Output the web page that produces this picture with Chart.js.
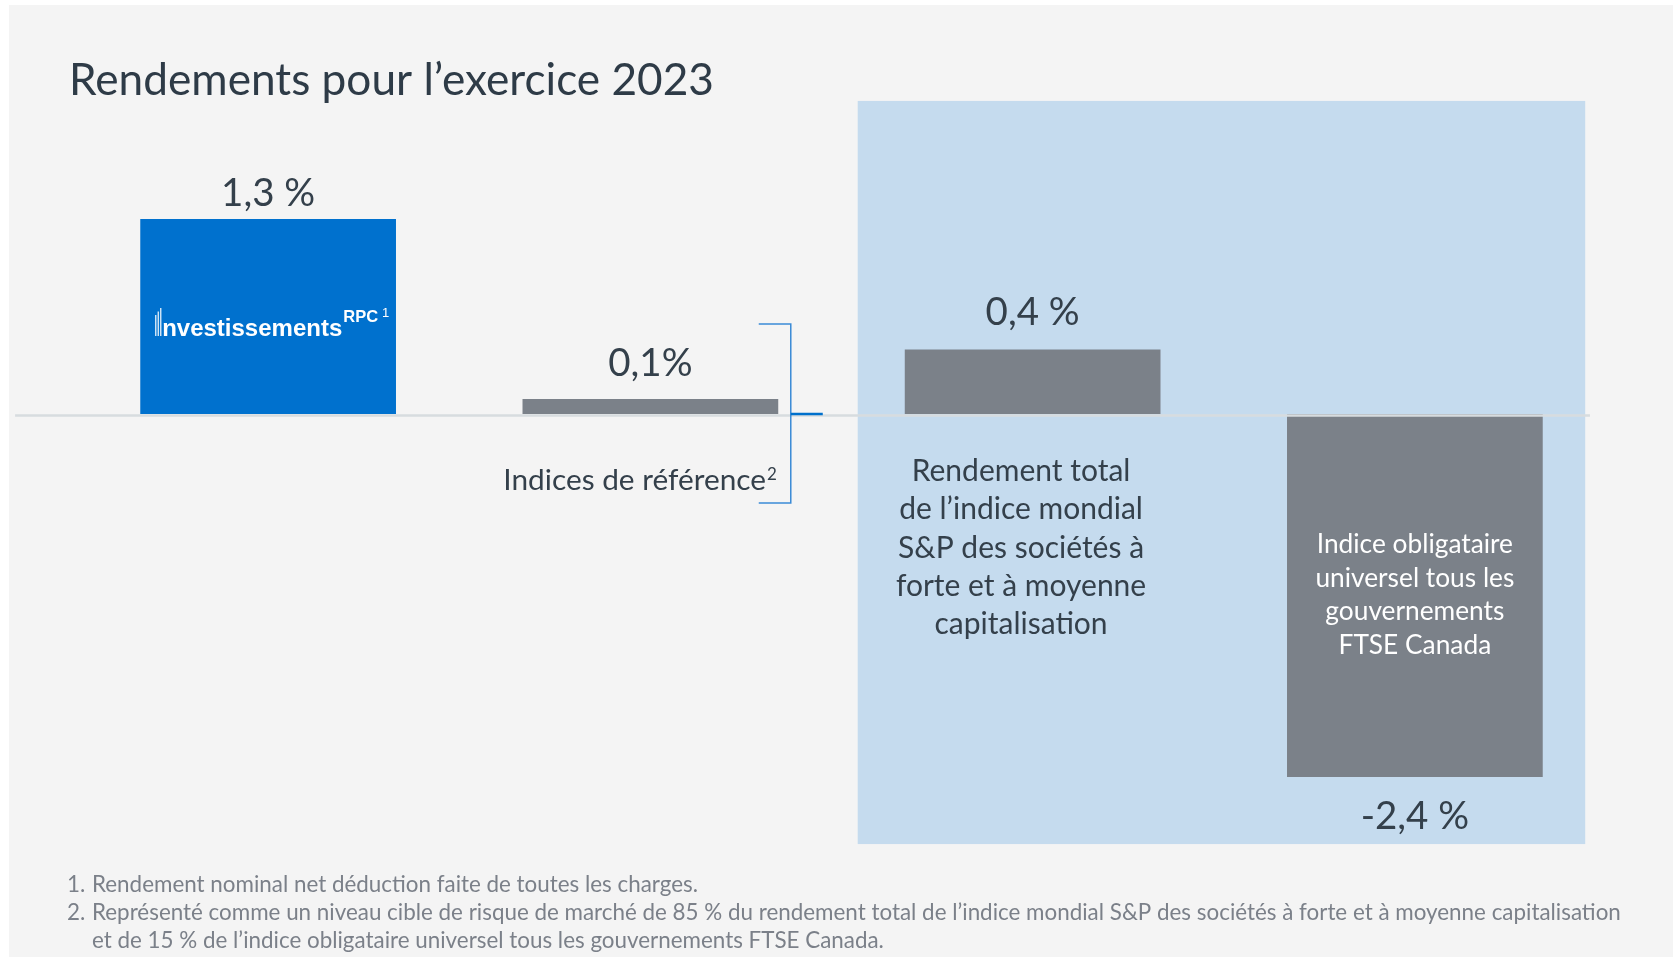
<!DOCTYPE html>
<html><head><meta charset="utf-8">
<script src="https://cdn.jsdelivr.net/npm/chart.js@4/dist/chart.umd.min.js"></script>
<style>html,body{margin:0;padding:0;background:#fff;overflow:hidden}canvas{display:block}</style>
</head><body>
<canvas id="c" width="1673" height="957"></canvas>
<script>
// ---------- data ----------
const categories = [
  "Investissements RPC",
  "Indices de référence",
  "Rendement total de l’indice mondial S&P des sociétés à forte et à moyenne capitalisation",
  "Indice obligataire universel tous les gouvernements FTSE Canada"
];
// bar heights (labels show the rounded figures)
const returns2023 = [1.3, 0.1, 0.43, -2.42];
const valueLabels = ["1,3 %", "0,1%", "0,4 %", "-2,4 %"];
const titleText = "Rendements pour l’exercice 2023";
const benchmarkLabel = "Indices de référence";
const benchmarkNote = "2";
const logoWord = "nvestissements";
const logoSuffix = "RPC";
const logoNote = "1";
const equityLabelLines = ["Rendement total", "de l’indice mondial", "S&P des sociétés à", "forte et à moyenne", "capitalisation"];
const bondLabelLines = ["Indice obligataire", "universel tous les", "gouvernements", "FTSE Canada"];
const footnoteNumbers = ["1.", "2.", ""];
const footnoteLines = [
  "Rendement nominal net déduction faite de toutes les charges.",
  "Représenté comme un niveau cible de risque de marché de 85 % du rendement total de l’indice mondial S&P des sociétés à forte et à moyenne capitalisation",
  "et de 15 % de l’indice obligataire universel tous les gouvernements FTSE Canada."
];

// ---------- style ----------
const FONT = 'Lato, "Open Sans", "Noto Sans", sans-serif';
const BAR_COLORS = ["#0071ce", "#7b8189", "#7b8189", "#7b8189"];
const TEXT_DARK = "#34404b";
const NOTE_GREY = "#7b8089";
const PANEL_BLUE = "#c5dbee";

function txt(ctx, s, x, y, size, color, align, maxW, weight) {
  ctx.font = (weight || "normal") + " " + size + "px " + FONT;
  ctx.fillStyle = color;
  ctx.textAlign = align || "left";
  ctx.textBaseline = "alphabetic";
  if (maxW) ctx.fillText(s, x, y, maxW); else ctx.fillText(s, x, y);
}

const decor = {
  id: "decor",
  beforeDraw(chart) {
    const ctx = chart.ctx;
    ctx.save();
    ctx.fillStyle = "#ffffff";
    ctx.fillRect(0, 0, chart.width, chart.height);
    ctx.fillStyle = "#f4f4f4";
    ctx.fillRect(9, 5, chart.width - 9, chart.height - 5);
    ctx.restore();
  },
  beforeDatasetsDraw(chart) {
    const ctx = chart.ctx, xs = chart.scales.x, ys = chart.scales.y;
    // highlighted panel behind the two market indices
    const x0 = xs.getPixelForValue(1.5424), x1 = xs.getPixelForValue(3.4456);
    const y0 = ys.getPixelForValue(2.087), y1 = ys.getPixelForValue(-2.867);
    ctx.save();
    ctx.fillStyle = PANEL_BLUE;
    ctx.fillRect(x0, y0, x1 - x0, y1 - y0);
    ctx.restore();
  },
  afterDatasetsDraw(chart) {
    const ctx = chart.ctx, xs = chart.scales.x, ys = chart.scales.y;
    const zeroY = ys.getPixelForValue(0);
    ctx.save();
    // zero line
    ctx.strokeStyle = "#d7dcdf";
    ctx.lineWidth = 2.5;
    ctx.beginPath();
    ctx.moveTo(xs.getPixelForValue(-0.662), zeroY + 1.6);
    ctx.lineTo(xs.getPixelForValue(3.458), zeroY + 1.6);
    ctx.stroke();

    // bracket around benchmark
    const bx0 = xs.getPixelForValue(1.2835), bx1 = xs.getPixelForValue(1.3673), bx2 = xs.getPixelForValue(1.451);
    const by0 = ys.getPixelForValue(0.6), by1 = ys.getPixelForValue(-0.593);
    ctx.strokeStyle = "#3a8ad6";
    ctx.lineWidth = 1.5;
    ctx.beginPath();
    ctx.moveTo(bx0, by0); ctx.lineTo(bx1, by0); ctx.lineTo(bx1, by1); ctx.lineTo(bx0, by1);
    ctx.stroke();
    ctx.strokeStyle = "#0070cc";
    ctx.lineWidth = 2.5;
    ctx.beginPath();
    ctx.moveTo(bx1, zeroY); ctx.lineTo(bx2, zeroY);
    ctx.stroke();

    // value labels
    const meta = chart.getDatasetMeta(0);
    const gaps = [13, 23, 25, 52];
    meta.data.forEach((el, i) => {
      const v = returns2023[i];
      const y = v >= 0 ? el.y - gaps[i] : el.y + gaps[i];
      txt(ctx, valueLabels[i], el.x, y, 38.5, TEXT_DARK, "center");
    });

    // logo in first bar
    const b0 = meta.data[0];
    const top = b0.y, bottom = b0.base;
    const base = top + 0.6 * (bottom - top);
    ctx.font = "bold 24px 'Liberation Sans', Arial, sans-serif";
    const wWord = ctx.measureText(logoWord).width;
    ctx.font = "bold 16.5px 'Liberation Sans', Arial, sans-serif";
    const wSuf = ctx.measureText(logoSuffix).width;
    const total = 7 + wWord + wSuf + 10;
    let lx = b0.x + 3 - total / 2;
    ctx.strokeStyle = "rgba(255,255,255,0.9)";
    ctx.lineWidth = 1.3;
    [[0, 21], [2.5, 24.5], [5, 28]].forEach(([dx, h]) => {
      ctx.beginPath(); ctx.moveTo(lx + dx + 0.6, base); ctx.lineTo(lx + dx + 0.6, base - h); ctx.stroke();
    });
    lx += 7;
    ctx.fillStyle = "#ffffff";
    ctx.textAlign = "left";
    ctx.font = "bold 24px 'Liberation Sans', Arial, sans-serif";
    ctx.fillText(logoWord, lx, base);
    lx += wWord + 1;
    ctx.font = "bold 16.5px 'Liberation Sans', Arial, sans-serif";
    ctx.fillText(logoSuffix, lx, base - 14);
    lx += wSuf + 4;
    ctx.font = "13px 'Liberation Sans', Arial, sans-serif";
    ctx.fillText(logoNote, lx, base - 19);

    // benchmark label with note
    const bxText = xs.getPixelForValue(1.3025), byText = ys.getPixelForValue(-0.507);
    txt(ctx, benchmarkLabel, bxText, byText, 29.8, TEXT_DARK, "right", 264);
    txt(ctx, benchmarkNote, bxText + 1, byText - 10, 17, TEXT_DARK, "left");

    // equity index label (below zero, in panel)
    const ex = xs.getPixelForValue(1.9697);
    let ey = ys.getPixelForValue(-0.447);
    equityLabelLines.forEach((l) => { txt(ctx, l, ex, ey, 30, TEXT_DARK, "center", 252); ey += 38.3; });

    // bond index label (inside bar)
    const ox = meta.data[3].x;
    let oy = ys.getPixelForValue(-0.927);
    bondLabelLines.forEach((l) => { txt(ctx, l, ox, oy, 26.3, "#ffffff", "center", 202); oy += 33.5; });
    ctx.restore();
  },
  afterDraw(chart) {
    const ctx = chart.ctx;
    ctx.save();
    txt(ctx, titleText, 69, 95, 44.3, "#2e3b47", "left", 645);
    const baselines = [892, 920, 948];
    footnoteLines.forEach((l, i) => {
      if (footnoteNumbers[i]) txt(ctx, footnoteNumbers[i], 67, baselines[i], 22.4, NOTE_GREY, "left");
      txt(ctx, l, 92, baselines[i], 22.4, NOTE_GREY, "left", i === 1 ? 1530 : undefined);
    });
    ctx.restore();
  }
};

new Chart(document.getElementById("c"), {
  type: "bar",
  data: {
    labels: categories,
    datasets: [{
      data: returns2023,
      backgroundColor: BAR_COLORS,
      borderWidth: 0,
      categoryPercentage: 1,
      barPercentage: 0.669
    }]
  },
  options: {
    responsive: false,
    devicePixelRatio: 1,
    animation: false,
    layout: { padding: { left: 77, right: 67, top: 0, bottom: 0 } },
    plugins: { legend: { display: false }, tooltip: { enabled: false }, title: { display: false } },
    scales: {
      x: { display: false, offset: true, grid: { display: false } },
      y: { display: false, min: -3.62, max: 2.76, grid: { display: false } }
    }
  },
  plugins: [decor]
});
</script>
</body></html>
